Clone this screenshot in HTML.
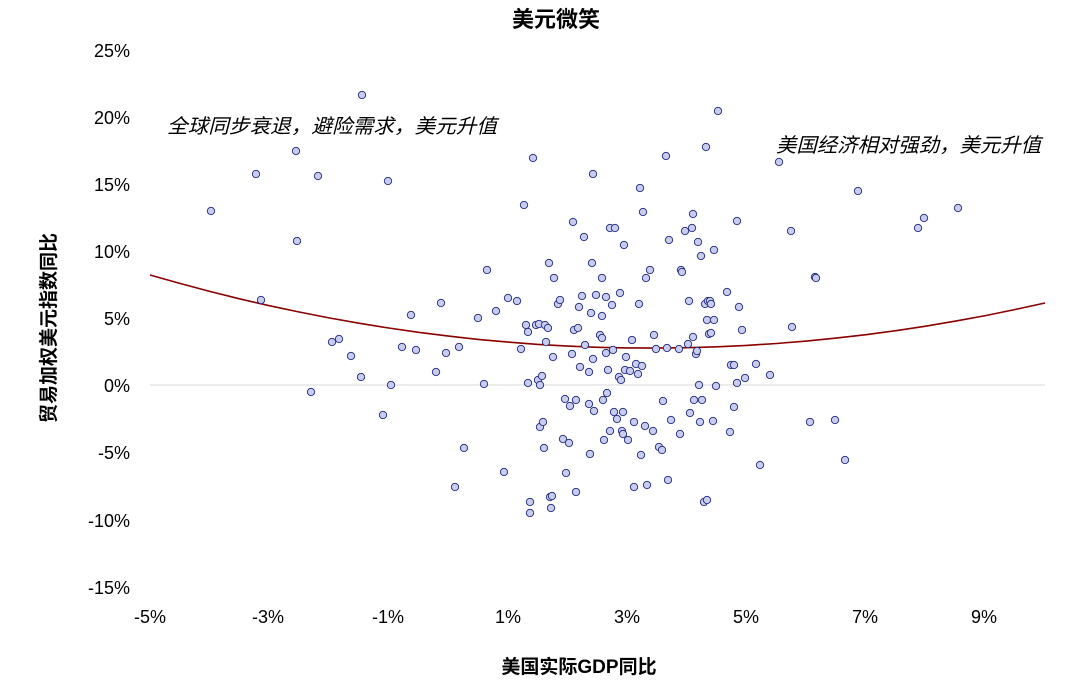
<!DOCTYPE html>
<html><head><meta charset="utf-8"><style>
body{margin:0;background:#fff;}
svg text{font-family:"Liberation Sans","Noto Sans CJK SC",sans-serif;}
</style></head><body>
<svg width="1078" height="682" viewBox="0 0 1078 682" xmlns="http://www.w3.org/2000/svg">
<text x="556" y="27" font-size="22" font-weight="bold" text-anchor="middle">美元微笑</text>
<line x1="150" y1="385" x2="1045" y2="385" stroke="#d9d9d9" stroke-width="1"/>
<g font-size="18" fill="#000" text-anchor="end">
<text x="130" y="57">25%</text><text x="130" y="124">20%</text><text x="130" y="191">15%</text>
<text x="130" y="258">10%</text><text x="130" y="325">5%</text><text x="130" y="392">0%</text>
<text x="130" y="459">-5%</text><text x="130" y="527">-10%</text><text x="130" y="594">-15%</text>
</g>
<g font-size="18" fill="#000" text-anchor="middle">
<text x="150" y="623">-5%</text><text x="268" y="623">-3%</text><text x="388" y="623">-1%</text>
<text x="508" y="623">1%</text><text x="627" y="623">3%</text><text x="746" y="623">5%</text>
<text x="865" y="623">7%</text><text x="984" y="623">9%</text>
</g>
<text x="579" y="673" font-size="19" font-weight="bold" text-anchor="middle">美国实际GDP同比</text>
<text transform="translate(55,328) rotate(-90)" font-size="19" font-weight="bold" text-anchor="middle">贸易加权美元指数同比</text>
<text x="167" y="133" font-size="20" font-style="italic" textLength="330" lengthAdjust="spacingAndGlyphs">全球同步衰退，避险需求，美元升值</text>
<text x="776" y="152" font-size="20" font-style="italic" textLength="265" lengthAdjust="spacingAndGlyphs">美国经济相对强劲，美元升值</text>
<polyline fill="none" stroke="#8b0000" stroke-width="1.6" points="150,275 179.8,283.4 209.7,291.4 239.5,298.8 269.3,305.7 299.2,312 329,317.9 358.8,323.2 388.7,328 418.5,332.3 448.4,336.1 478.2,339.4 508,342.1 537.9,344.4 567.7,346.1 597.5,347.3 627.4,347.9 657.2,348.1 687,347.7 716.9,346.8 746.7,345.4 776.5,343.5 806.4,341.1 836.2,338.1 866,334.7 895.9,330.7 925.7,326.2 955.6,321.1 985.4,315.6 1015.2,309.5 1045,303"/>
<g fill="#c8ccf0" stroke="#1f2a7a" stroke-width="0.9">
<circle cx="211" cy="211" r="3.7"/><circle cx="256" cy="174" r="3.7"/><circle cx="261" cy="300" r="3.7"/><circle cx="296" cy="151" r="3.7"/><circle cx="297" cy="241" r="3.7"/><circle cx="311" cy="392" r="3.7"/><circle cx="318" cy="176" r="3.7"/><circle cx="332" cy="342" r="3.7"/><circle cx="339" cy="339" r="3.7"/><circle cx="351" cy="356" r="3.7"/>
<circle cx="361" cy="377" r="3.7"/><circle cx="362" cy="95" r="3.7"/><circle cx="383" cy="415" r="3.7"/><circle cx="388" cy="181" r="3.7"/><circle cx="391" cy="385" r="3.7"/><circle cx="402" cy="347" r="3.7"/><circle cx="411" cy="315" r="3.7"/><circle cx="416" cy="350" r="3.7"/><circle cx="436" cy="372" r="3.7"/><circle cx="441" cy="303" r="3.7"/>
<circle cx="446" cy="353" r="3.7"/><circle cx="459" cy="347" r="3.7"/><circle cx="455" cy="487" r="3.7"/><circle cx="464" cy="448" r="3.7"/><circle cx="478" cy="318" r="3.7"/><circle cx="484" cy="384" r="3.7"/><circle cx="487" cy="270" r="3.7"/><circle cx="496" cy="311" r="3.7"/><circle cx="504" cy="472" r="3.7"/><circle cx="508" cy="298" r="3.7"/>
<circle cx="517" cy="301" r="3.7"/><circle cx="524" cy="205" r="3.7"/><circle cx="521" cy="349" r="3.7"/><circle cx="526" cy="325" r="3.7"/><circle cx="528" cy="383" r="3.7"/><circle cx="528" cy="332" r="3.7"/><circle cx="530" cy="502" r="3.7"/><circle cx="530" cy="513" r="3.7"/><circle cx="533" cy="158" r="3.7"/><circle cx="536" cy="325" r="3.7"/>
<circle cx="538" cy="380" r="3.7"/><circle cx="539" cy="324" r="3.7"/><circle cx="540" cy="427" r="3.7"/><circle cx="540" cy="385" r="3.7"/><circle cx="542" cy="376" r="3.7"/><circle cx="543" cy="422" r="3.7"/><circle cx="544" cy="448" r="3.7"/><circle cx="545" cy="325" r="3.7"/><circle cx="546" cy="342" r="3.7"/><circle cx="548" cy="328" r="3.7"/>
<circle cx="549" cy="263" r="3.7"/><circle cx="550" cy="497" r="3.7"/><circle cx="551" cy="508" r="3.7"/><circle cx="552" cy="496" r="3.7"/><circle cx="553" cy="357" r="3.7"/><circle cx="554" cy="278" r="3.7"/><circle cx="558" cy="304" r="3.7"/><circle cx="560" cy="300" r="3.7"/><circle cx="563" cy="439" r="3.7"/><circle cx="565" cy="399" r="3.7"/>
<circle cx="566" cy="473" r="3.7"/><circle cx="569" cy="443" r="3.7"/><circle cx="570" cy="406" r="3.7"/><circle cx="572" cy="354" r="3.7"/><circle cx="573" cy="222" r="3.7"/><circle cx="574" cy="330" r="3.7"/><circle cx="576" cy="492" r="3.7"/><circle cx="576" cy="400" r="3.7"/><circle cx="578" cy="328" r="3.7"/><circle cx="579" cy="307" r="3.7"/>
<circle cx="580" cy="367" r="3.7"/><circle cx="582" cy="296" r="3.7"/><circle cx="584" cy="237" r="3.7"/><circle cx="585" cy="345" r="3.7"/><circle cx="589" cy="372" r="3.7"/><circle cx="589" cy="404" r="3.7"/><circle cx="590" cy="454" r="3.7"/><circle cx="591" cy="313" r="3.7"/><circle cx="592" cy="263" r="3.7"/><circle cx="593" cy="174" r="3.7"/>
<circle cx="593" cy="359" r="3.7"/><circle cx="594" cy="411" r="3.7"/><circle cx="596" cy="295" r="3.7"/><circle cx="600" cy="335" r="3.7"/><circle cx="602" cy="316" r="3.7"/><circle cx="602" cy="278" r="3.7"/><circle cx="602" cy="338" r="3.7"/><circle cx="603" cy="400" r="3.7"/><circle cx="604" cy="440" r="3.7"/><circle cx="606" cy="297" r="3.7"/>
<circle cx="606" cy="353" r="3.7"/><circle cx="607" cy="393" r="3.7"/><circle cx="608" cy="370" r="3.7"/><circle cx="610" cy="228" r="3.7"/><circle cx="610" cy="431" r="3.7"/><circle cx="612" cy="305" r="3.7"/><circle cx="613" cy="350" r="3.7"/><circle cx="614" cy="412" r="3.7"/><circle cx="615" cy="228" r="3.7"/><circle cx="617" cy="419" r="3.7"/>
<circle cx="619" cy="377" r="3.7"/><circle cx="620" cy="293" r="3.7"/><circle cx="621" cy="380" r="3.7"/><circle cx="622" cy="431" r="3.7"/><circle cx="623" cy="412" r="3.7"/><circle cx="623" cy="434" r="3.7"/><circle cx="624" cy="245" r="3.7"/><circle cx="625" cy="370" r="3.7"/><circle cx="626" cy="357" r="3.7"/><circle cx="628" cy="440" r="3.7"/>
<circle cx="630" cy="371" r="3.7"/><circle cx="632" cy="340" r="3.7"/><circle cx="634" cy="487" r="3.7"/><circle cx="634" cy="422" r="3.7"/><circle cx="636" cy="364" r="3.7"/><circle cx="638" cy="374" r="3.7"/><circle cx="639" cy="304" r="3.7"/><circle cx="640" cy="188" r="3.7"/><circle cx="641" cy="455" r="3.7"/><circle cx="642" cy="366" r="3.7"/>
<circle cx="643" cy="212" r="3.7"/><circle cx="645" cy="426" r="3.7"/><circle cx="646" cy="278" r="3.7"/><circle cx="647" cy="485" r="3.7"/><circle cx="650" cy="270" r="3.7"/><circle cx="653" cy="431" r="3.7"/><circle cx="654" cy="335" r="3.7"/><circle cx="656" cy="349" r="3.7"/><circle cx="659" cy="447" r="3.7"/><circle cx="662" cy="450" r="3.7"/>
<circle cx="663" cy="401" r="3.7"/><circle cx="666" cy="156" r="3.7"/><circle cx="667" cy="348" r="3.7"/><circle cx="668" cy="480" r="3.7"/><circle cx="669" cy="240" r="3.7"/><circle cx="671" cy="420" r="3.7"/><circle cx="679" cy="349" r="3.7"/><circle cx="680" cy="434" r="3.7"/><circle cx="681" cy="270" r="3.7"/><circle cx="682" cy="272" r="3.7"/>
<circle cx="685" cy="231" r="3.7"/><circle cx="688" cy="344" r="3.7"/><circle cx="689" cy="301" r="3.7"/><circle cx="690" cy="413" r="3.7"/><circle cx="692" cy="228" r="3.7"/><circle cx="693" cy="214" r="3.7"/><circle cx="693" cy="337" r="3.7"/><circle cx="694" cy="400" r="3.7"/><circle cx="696" cy="354" r="3.7"/><circle cx="697" cy="351" r="3.7"/>
<circle cx="698" cy="242" r="3.7"/><circle cx="699" cy="385" r="3.7"/><circle cx="700" cy="422" r="3.7"/><circle cx="701" cy="256" r="3.7"/><circle cx="702" cy="400" r="3.7"/><circle cx="704" cy="502" r="3.7"/><circle cx="705" cy="304" r="3.7"/><circle cx="706" cy="147" r="3.7"/><circle cx="707" cy="320" r="3.7"/><circle cx="707" cy="500" r="3.7"/>
<circle cx="708" cy="301" r="3.7"/><circle cx="709" cy="334" r="3.7"/><circle cx="710" cy="301" r="3.7"/><circle cx="711" cy="304" r="3.7"/><circle cx="711" cy="333" r="3.7"/><circle cx="713" cy="421" r="3.7"/><circle cx="714" cy="320" r="3.7"/><circle cx="714" cy="250" r="3.7"/><circle cx="716" cy="386" r="3.7"/><circle cx="718" cy="111" r="3.7"/>
<circle cx="727" cy="292" r="3.7"/><circle cx="730" cy="432" r="3.7"/><circle cx="731" cy="365" r="3.7"/><circle cx="734" cy="407" r="3.7"/><circle cx="734" cy="365" r="3.7"/><circle cx="737" cy="221" r="3.7"/><circle cx="737" cy="383" r="3.7"/><circle cx="739" cy="307" r="3.7"/><circle cx="742" cy="330" r="3.7"/><circle cx="745" cy="378" r="3.7"/>
<circle cx="756" cy="364" r="3.7"/><circle cx="760" cy="465" r="3.7"/><circle cx="770" cy="375" r="3.7"/><circle cx="779" cy="162" r="3.7"/><circle cx="791" cy="231" r="3.7"/><circle cx="792" cy="327" r="3.7"/><circle cx="810" cy="422" r="3.7"/><circle cx="815" cy="277" r="3.7"/><circle cx="816" cy="278" r="3.7"/><circle cx="835" cy="420" r="3.7"/>
<circle cx="845" cy="460" r="3.7"/><circle cx="858" cy="191" r="3.7"/><circle cx="918" cy="228" r="3.7"/><circle cx="924" cy="218" r="3.7"/><circle cx="958" cy="208" r="3.7"/>
</g>
</svg>
</body></html>
